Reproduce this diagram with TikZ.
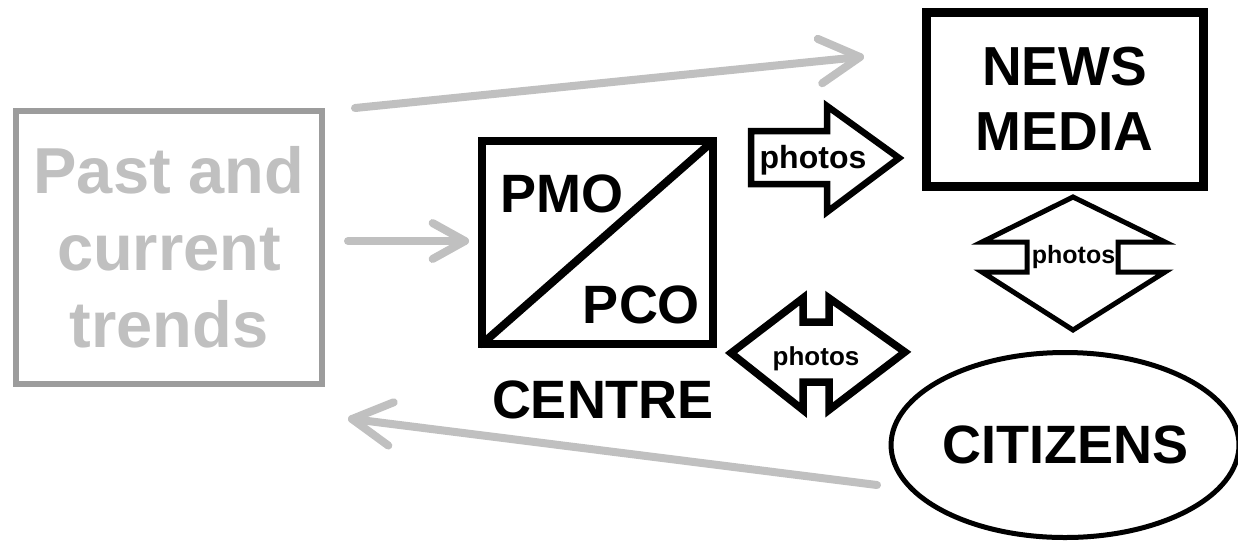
\documentclass[tikz,border=0pt]{standalone}
\usepackage{fontspec}
\setmainfont{Liberation Sans}
\usetikzlibrary{calc,shapes.geometric}
\definecolor{trendgrey}{HTML}{C0C0C0}
\definecolor{framegrey}{HTML}{9C9C9C}

% open chevron head for the grey trend arrows: tip, point on the shaft, barb length
\newcommand\chevronhead[3]{%
  \draw[greyarrow] ($(#1)!#3!29:(#2)$) -- (#1) -- ($(#1)!#3!-29:(#2)$);}

\begin{document}
\begin{tikzpicture}[x=1pt,y=-1pt,
  every node/.style={inner sep=0pt, outer sep=0pt},
  bigtxt/.style={font=\fontsize{54}{65}\selectfont\bfseries},
  greytxt/.style={font=\fontsize{65}{77}\selectfont\bfseries, text=trendgrey, align=center},
  greyarrow/.style={draw=trendgrey, line width=8pt, line cap=round, line join=round},
  blockarrow/.style={draw=black, fill=white, line join=miter},
  photolabel/.style={font=\fontsize{#1}{#1}\selectfont\bfseries, anchor=base},
]
\useasboundingbox (0,0) rectangle (1238,542);

% source box
\node[draw=framegrey, line width=6pt, minimum width=306pt, minimum height=273pt, greytxt]
  (trends) at (169,247.5) {Past and\\current\\trends};

% centre box, split by its diagonal
\node[draw, line width=8pt, minimum width=231pt, minimum height=203pt]
  (centre) at (597.5,242.5) {};
\draw[line width=8pt, line cap=round] (centre.south west) -- (centre.north east);
\node[bigtxt, anchor=base west] (pmo) at (500,212) {PMO};
\node[bigtxt, anchor=base east] (pco) at (700,323) {PCO};
\node[bigtxt, anchor=base] (centrelabel) at (603,418) {CENTRE};

% news media
\node[draw, line width=9pt, minimum width=277pt, minimum height=174pt,
  font=\fontsize{55}{65}\selectfont\bfseries, align=center]
  (media) at (1064.5,99) {NEWS\\MEDIA};

% citizens
\node[draw, ellipse, line width=5pt, minimum width=335pt, minimum height=185pt,
  font=\fontsize{54}{65}\selectfont\bfseries]
  (citizens) at (1065,445) {CITIZENS};

% grey trend arrows
\coordinate (topfrom) at (355,108);
\coordinate (topto) at (860,57);
\coordinate (midfrom) at (348,241);
\coordinate (midto) at (465,241);
\coordinate (lowfrom) at (877,485);
\coordinate (lowto) at (352,419);
\draw[greyarrow] (topfrom) -- (topto);
\chevronhead{topto}{topfrom}{46pt}
\draw[greyarrow] (midfrom) -- (midto);
\chevronhead{midto}{midfrom}{37pt}
\draw[greyarrow] (lowfrom) -- (lowto);
\chevronhead{lowto}{lowfrom}{45pt}

% block arrows carrying photos
\draw[blockarrow, line width=6.5pt]
  (751,131) -- (827,131) -- (827,106) -- (899,158) -- (827,212)
  -- (827,184) -- (751,184) -- cycle;
\node[photolabel=32] (ph1) at (813,168) {photos};

\draw[blockarrow, line width=5pt]
  (1073,197) -- (1165,242) -- (1118,242) -- (1118,272) -- (1165,272)
  -- (1073,330) -- (982,272) -- (1027,272) -- (1027,242) -- (982,242) -- cycle;
\node[photolabel=25] (ph2) at (1073.5,263) {photos};

\draw[blockarrow, line width=7.5pt]
  (731,353) -- (803,298) -- (803,322) -- (829,322) -- (829,298) -- (905,352)
  -- (829,410) -- (829,382) -- (803,382) -- (803,410) -- cycle;
\node[photolabel=26] (ph3) at (816,365) {photos};

\end{tikzpicture}
\end{document}
